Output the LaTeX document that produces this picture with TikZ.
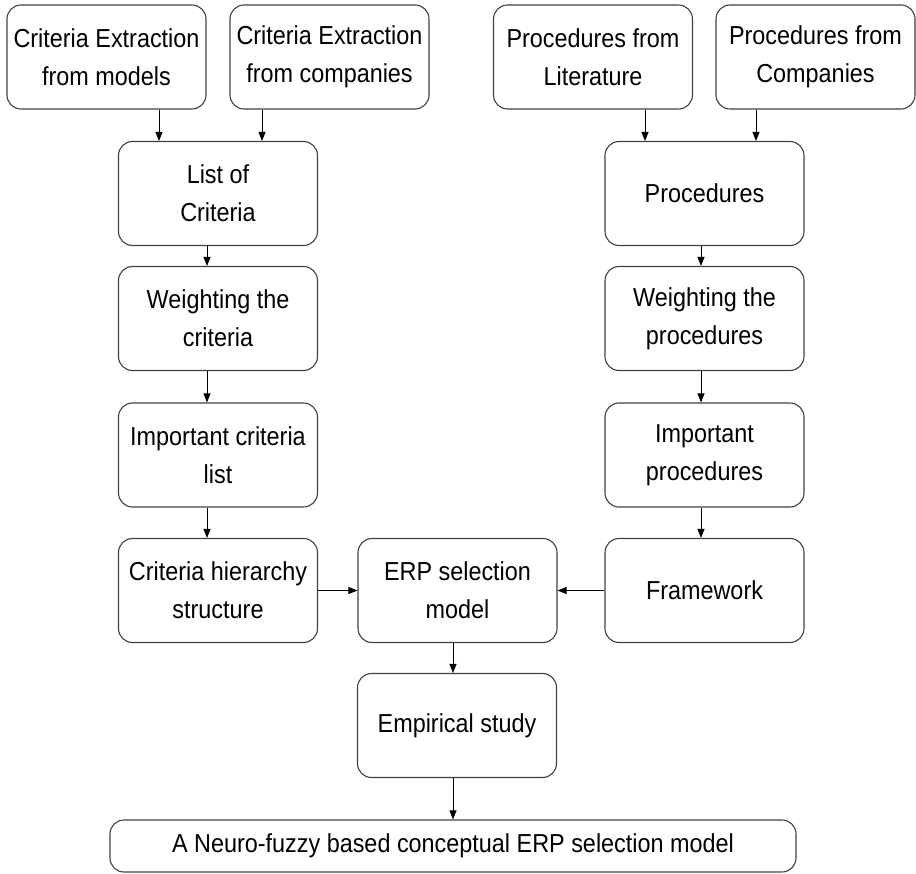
\documentclass[tikz,border=0pt]{standalone}
\usepackage{fontspec}
\setmainfont[FakeStretch=0.9]{Liberation Sans}
\usetikzlibrary{arrows.meta,calc}
\begin{document}
\begin{tikzpicture}[x=1pt,y=-1pt,
  box/.style={draw=black!75, line width=1.1pt, rounded corners=14pt,
    minimum width=199pt, minimum height=104pt, inner sep=0pt, align=center,
    font=\fontsize{26}{38}\selectfont},
  arr/.style={draw=black, line width=0.9pt, -{Triangle[length=9pt,width=7pt]}}]
\useasboundingbox (0,0) rectangle (916,874);
\node[box] (b1) at (106.5,57) {Criteria Extraction\\from models};
\node[box] (b2) at (329.5,57) {Criteria Extraction\\from companies};
\node[box] (b3) at (593,57) {Procedures from\\Literature};
\node[box] (b4) at (815.5,57) {Procedures from\\Companies};
\node[box] (list) at (218,193.5) {List of\\Criteria};
\node[box] (proc) at (704.5,193.5) {Procedures};
\node[box] (wc) at (218,318.5) {Weighting the\\criteria};
\node[box] (wp) at (704.5,318.5) {Weighting the\\procedures};
\node[box] (ic) at (218,455) {Important criteria\\list};
\node[box] (ip) at (704.5,455) {Important\\procedures};
\node[box] (ch) at (218,590.5) {Criteria hierarchy\\structure};
\node[box] (erp) at (457.5,590.5) {ERP selection\\model};
\node[box] (fw) at (704.5,590.5) {Framework};
\node[box] (emp) at (457,725.5) {Empirical study};
\node[box, minimum width=686pt, minimum height=52pt] (fin) at (453,846) {A Neuro-fuzzy based conceptual ERP selection model};
% arrows top
\draw[arr] ([xshift=52.5pt]b1.south) -- ([xshift=52.5pt]b1.south |- list.north);
\draw[arr] ([xshift=-67.5pt]b2.south) -- ([xshift=-67.5pt]b2.south |- list.north);
\draw[arr] ([xshift=52pt]b3.south) -- ([xshift=52pt]b3.south |- proc.north);
\draw[arr] ([xshift=-59.5pt]b4.south) -- ([xshift=-59.5pt]b4.south |- proc.north);
% left column
\draw[arr] ([xshift=-11pt]list.south) -- ([xshift=-11pt]wc.north);
\draw[arr] ([xshift=-11pt]wc.south) -- ([xshift=-11pt]ic.north);
\draw[arr] ([xshift=-11pt]ic.south) -- ([xshift=-11pt]ch.north);
% right column
\draw[arr] ([xshift=-3.5pt]proc.south) -- ([xshift=-3.5pt]wp.north);
\draw[arr] ([xshift=-3.5pt]wp.south) -- ([xshift=-3.5pt]ip.north);
\draw[arr] ([xshift=-3.5pt]ip.south) -- ([xshift=-3.5pt]fw.north);
% to ERP
\draw[arr] (ch.east) -- (erp.west);
\draw[arr] (fw.west) -- (erp.east);
% bottom
\draw[arr] ([xshift=-4.5pt]erp.south) -- ([xshift=-4.5pt]erp.south |- emp.north);
\draw[arr] ([xshift=-4pt]emp.south) -- ([xshift=-4pt]emp.south |- fin.north);
\end{tikzpicture}
\end{document}
